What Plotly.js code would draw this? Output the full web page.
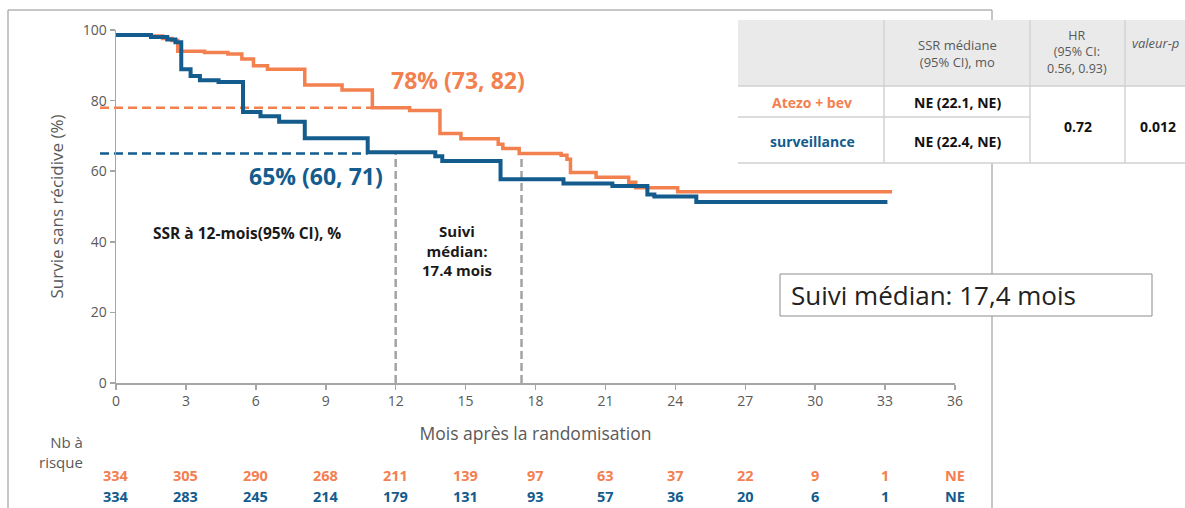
<!DOCTYPE html>
<html>
<head>
<meta charset="utf-8">
<script src="https://cdn.plot.ly/plotly-3.0.1.min.js"></script>
<style>
  html, body { margin: 0; padding: 0; background: #ffffff; }
  #chart { width: 1185px; height: 508px; }
</style>
</head>
<body>
<div id="chart"></div>
<script>
// ---- Kaplan-Meier estimates (months, % relapse-free) ----
const atezoMonths   = [0, 1.5, 2.0, 2.4, 2.65, 3.8, 4.8, 5.4, 5.9, 6.5, 8.1, 9.7, 11.0, 12.6, 13.9, 14.8, 16.4, 16.6, 17.3, 19.1, 19.35, 19.5, 20.6, 22.0, 22.3, 24.1, 33.3];
const atezoSurvival = [98.6, 98.3, 97.6, 97.0, 94.0, 93.6, 93.2, 91.8, 89.9, 88.9, 84.4, 83.0, 78.0, 77.2, 70.7, 69.2, 67.6, 66.4, 65.0, 64.5, 63.4, 59.6, 58.3, 56.9, 55.3, 54.2, 54.2];

const survMonths   = [0, 1.5, 2.2, 2.55, 2.8, 3.2, 3.6, 4.4, 5.45, 6.2, 7.0, 8.1, 10.8, 13.7, 14.0, 16.5, 19.2, 21.3, 22.8, 23.1, 24.9, 33.1];
const survSurvival = [98.6, 98.0, 97.3, 96.5, 88.9, 87.0, 85.8, 85.3, 76.8, 75.6, 74.0, 69.3, 65.4, 64.2, 62.9, 57.7, 56.5, 55.8, 53.4, 52.8, 51.3, 51.3];

// ---- Patients at risk ----
const riskMonths = [0, 3, 6, 9, 12, 15, 18, 21, 24, 27, 30, 33, 36];
const riskAtezo  = ['334', '305', '290', '268', '211', '139', '97', '63', '37', '22', '9', '1', 'NE'];
const riskSurv   = ['334', '283', '245', '214', '179', '131', '93', '57', '36', '20', '6', '1', 'NE'];

// ---- 12-month landmark and follow-up ----
const landmarkMonth = 12;
const landmarkAtezo = 78;
const landmarkSurv = 65;
const landmarkAtezoLabel = '78% (73, 82)';
const landmarkSurvLabel = '65% (60, 71)';
const medianFollowUp = 17.4;

// ---- Summary table ----
const tableHeader = ['SSR médiane<br>(95% CI), mo', 'HR<br>(95% CI:<br>0.56, 0.93)', '<i>valeur-p</i>'];
const armNames = ['Atezo + bev', 'surveillance'];
const medianSSR = ['NE (22.1, NE)', 'NE (22.4, NE)'];
const hazardRatio = '0.72';
const pValue = '0.012';

const xTicks = [0, 3, 6, 9, 12, 15, 18, 21, 24, 27, 30, 33, 36];
const yTicks = [0, 20, 40, 60, 80, 100];

// ---- Styling ----
const ORANGE = '#F3804F';
const BLUE = '#135C8D';
const GREY_TXT = '#595959';
const FONT = 'Open Sans, sans-serif';

// Plot frame in pixels (used to place elements drawn around the axes)
const W = 1185, H = 508;
const L = 116, R = 955, T = 30, B = 383;
const PX = px => (px - L) / (R - L);
const PY = py => (B - py) / (B - T);
const X_MAX = 36, Y_MAX = 100;
const dx = v => v / X_MAX;
const dy = v => v / Y_MAX;

const traces = [
  {
    x: atezoMonths, y: atezoSurvival, type: 'scatter', mode: 'lines',
    line: { shape: 'hv', color: ORANGE, width: 3.5 },
    name: armNames[0], hoverinfo: 'x+y'
  },
  {
    x: survMonths, y: survSurvival, type: 'scatter', mode: 'lines',
    line: { shape: 'hv', color: BLUE, width: 4 },
    name: armNames[1], hoverinfo: 'x+y'
  }
];

const shapes = [];
const annotations = [];

// text helper: centred on the given point unless told otherwise
function note(opts) {
  annotations.push(Object.assign({
    xref: 'paper', yref: 'paper', showarrow: false,
    xanchor: 'center', yanchor: 'middle'
  }, opts));
}

// outer frame
shapes.push({ type: 'rect', xref: 'paper', yref: 'paper',
  x0: PX(8), x1: PX(992), y0: PY(10), y1: PY(540),
  line: { color: '#8f8f8f', width: 1 }, fillcolor: 'rgba(0,0,0,0)' });

// landmark dashed lines at 12 months
shapes.push({ type: 'line', xref: 'paper', yref: 'paper', layer: 'below',
  x0: PX(100), x1: dx(11.0), y0: dy(landmarkAtezo), y1: dy(landmarkAtezo),
  line: { color: ORANGE, width: 2.5, dash: '9px,5px' } });
shapes.push({ type: 'line', xref: 'paper', yref: 'paper', layer: 'below',
  x0: PX(100), x1: dx(10.8), y0: dy(landmarkSurv), y1: dy(landmarkSurv),
  line: { color: BLUE, width: 2.5, dash: '9px,5px' } });

// vertical markers: 12 months and median follow-up
[landmarkMonth, medianFollowUp].forEach(m => {
  shapes.push({ type: 'line', xref: 'x', yref: 'y', layer: 'below',
    x0: m, x1: m, y0: 0, y1: 65,
    line: { color: '#a3a3a3', width: 2.5, dash: '8px,4px' } });
});

// landmark labels
note({ x: PX(458), y: PY(80), text: '<b>' + landmarkAtezoLabel + '</b>',
  font: { family: FONT, size: 23, color: ORANGE } });
note({ x: PX(316), y: PY(176), text: '<b>' + landmarkSurvLabel + '</b>',
  font: { family: FONT, size: 23, color: BLUE } });
note({ x: PX(247), y: PY(233), text: '<b>SSR à 12-mois(95% CI), %</b>',
  font: { family: FONT, size: 15.5, color: '#1a1a1a' } });
note({ x: PX(457), y: PY(250), text: '<b>Suivi<br>médian:<br>' + medianFollowUp + ' mois</b>',
  font: { family: FONT, size: 15, color: '#1a1a1a' } });

// at-risk rows
note({ x: PX(85), y: PY(452), xanchor: 'right', align: 'right',
  text: 'Nb à<br>risque', font: { family: FONT, size: 15, color: GREY_TXT } });
riskMonths.forEach((m, i) => {
  note({ xref: 'x', x: m, y: PY(475), text: '<b>' + riskAtezo[i] + '</b>',
    font: { family: FONT, size: 14.5, color: ORANGE } });
  note({ xref: 'x', x: m, y: PY(496), text: '<b>' + riskSurv[i] + '</b>',
    font: { family: FONT, size: 14.5, color: BLUE } });
});

// summary table
const tL = 738, tR = 1200, c1 = 884, c2 = 1030, c3 = 1125;
const tTop = 20, tHead = 86, tMid = 117, tBot = 163;
shapes.push({ type: 'rect', xref: 'paper', yref: 'paper',
  x0: PX(tL), x1: PX(tR), y0: PY(tTop), y1: PY(tBot),
  line: { width: 0 }, fillcolor: '#ffffff' });
shapes.push({ type: 'rect', xref: 'paper', yref: 'paper',
  x0: PX(tL), x1: PX(tR), y0: PY(tTop), y1: PY(tHead),
  line: { width: 0 }, fillcolor: '#eaeaea' });
[c1, c2, c3].forEach(c => {
  shapes.push({ type: 'line', xref: 'paper', yref: 'paper',
    x0: PX(c), x1: PX(c), y0: PY(tTop), y1: PY(tBot),
    line: { color: '#d3d3d3', width: 1.5 } });
});
shapes.push({ type: 'line', xref: 'paper', yref: 'paper',
  x0: PX(tL), x1: PX(tR), y0: PY(tHead), y1: PY(tHead),
  line: { color: '#d0d0d0', width: 1.5 } });
shapes.push({ type: 'line', xref: 'paper', yref: 'paper',
  x0: PX(tL), x1: PX(c2), y0: PY(tMid), y1: PY(tMid),
  line: { color: '#d0d0d0', width: 1.5 } });
shapes.push({ type: 'line', xref: 'paper', yref: 'paper',
  x0: PX(tL), x1: PX(tR), y0: PY(tBot), y1: PY(tBot),
  line: { color: '#d0d0d0', width: 1.5 } });

note({ x: PX(957), y: PY(54), text: tableHeader[0],
  font: { family: FONT, size: 13, color: GREY_TXT } });
note({ x: PX(1077), y: PY(52), text: tableHeader[1],
  font: { family: FONT, size: 12.5, color: GREY_TXT } });
note({ x: PX(1130), y: PY(43), xanchor: 'left', text: tableHeader[2],
  font: { family: FONT, size: 13, color: GREY_TXT } });

const rowY = [102, 141];
const armColors = [ORANGE, BLUE];
armNames.forEach((a, i) => {
  note({ x: PX(812), y: PY(rowY[i]), text: '<b>' + a + '</b>',
    font: { family: FONT, size: 14, color: armColors[i] } });
  note({ x: PX(957), y: PY(rowY[i]), text: '<b>' + medianSSR[i] + '</b>',
    font: { family: FONT, size: 14, color: '#111111' } });
});
note({ x: PX(1078), y: PY(126), text: '<b>' + hazardRatio + '</b>',
  font: { family: FONT, size: 14, color: '#111111' } });
note({ x: PX(1158), y: PY(126), text: '<b>' + pValue + '</b>',
  font: { family: FONT, size: 14, color: '#111111' } });

// median follow-up callout
shapes.push({ type: 'rect', xref: 'paper', yref: 'paper',
  x0: PX(780), x1: PX(1152), y0: PY(274), y1: PY(316),
  line: { color: '#8c8c8c', width: 1 }, fillcolor: '#ffffff' });
note({ x: PX(789), y: PY(295), xanchor: 'left', text: 'Suivi médian: 17,4 mois',
  font: { family: FONT, size: 26, color: '#222222' } });

const layout = {
  width: W, height: H,
  margin: { l: L, r: W - R, t: T, b: H - B, pad: 0 },
  paper_bgcolor: '#ffffff',
  plot_bgcolor: 'rgba(0,0,0,0)',
  showlegend: false,
  font: { family: FONT, color: GREY_TXT },
  xaxis: {
    range: [0, X_MAX], tickvals: xTicks, ticktext: xTicks.map(String),
    showgrid: false, zeroline: false, showline: true,
    linecolor: '#a6a6a6', linewidth: 1.5,
    ticks: 'outside', ticklen: 5, tickcolor: '#a6a6a6', tickwidth: 1.5,
    tickfont: { family: FONT, size: 14, color: GREY_TXT },
    title: { text: 'Mois après la randomisation', standoff: 18,
      font: { family: FONT, size: 17.5, color: GREY_TXT } }
  },
  yaxis: {
    range: [0, Y_MAX], tickvals: yTicks,
    showgrid: false, zeroline: false, showline: true,
    linecolor: '#a6a6a6', linewidth: 1.5,
    ticks: 'outside', ticklen: 5, tickcolor: '#a6a6a6', tickwidth: 1.5,
    tickfont: { family: FONT, size: 14, color: GREY_TXT },
    title: { text: 'Survie sans récidive (%)', standoff: 14,
      font: { family: FONT, size: 17, color: GREY_TXT } }
  },
  shapes: shapes,
  annotations: annotations
};

Plotly.newPlot('chart', traces, layout, { displayModeBar: false, staticPlot: true });
</script>
</body>
</html>
